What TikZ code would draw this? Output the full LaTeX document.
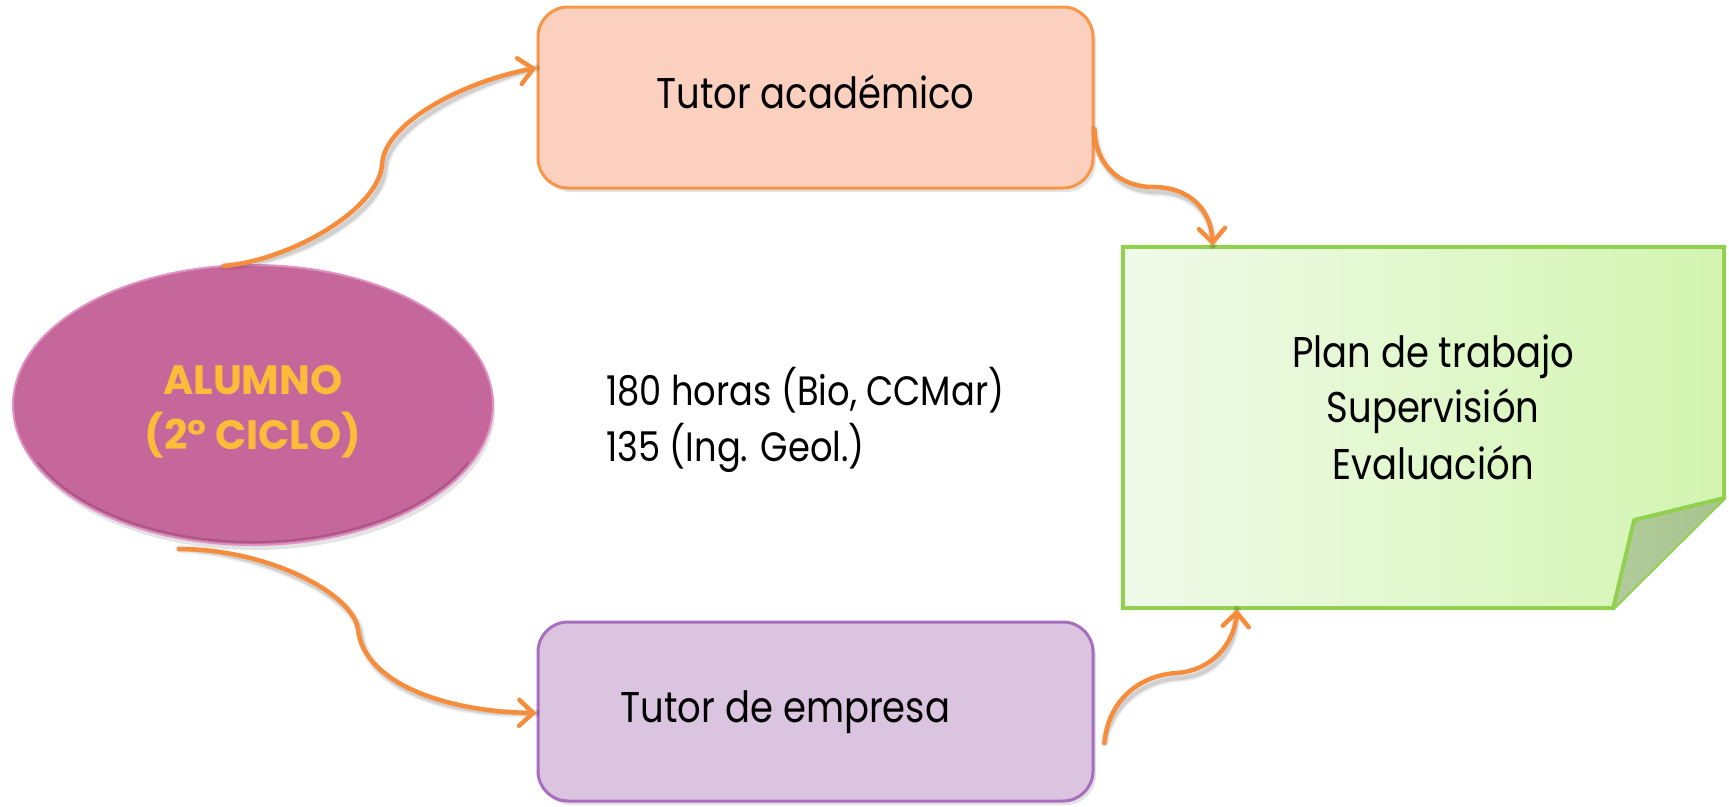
\documentclass[tikz,border=0pt]{standalone}
\usepackage{fontspec}
\setmainfont{Poppins}[FakeStretch=0.86]
\newfontfamily\titlefont{Poppins}
\usetikzlibrary{arrows.meta,shapes.geometric,shadows}
\definecolor{arrorange}{HTML}{F58D3C}
\definecolor{acadfill}{HTML}{FCD0BF}
\definecolor{acaddraw}{HTML}{F79646}
\definecolor{empfill}{HTML}{DBC4DF}
\definecolor{empdraw}{HTML}{A86EBE}
\definecolor{alufill}{HTML}{C6679B}
\definecolor{alurim}{HTML}{DE93C2}
\definecolor{aludark}{HTML}{A04F7D}
\definecolor{alutext}{HTML}{FDBB3A}
\definecolor{noteleft}{HTML}{F0FAEA}
\definecolor{noteright}{HTML}{D3F5B0}
\definecolor{notedraw}{HTML}{92D050}
\definecolor{foldleft}{HTML}{B3CB9C}
\definecolor{foldright}{HTML}{A7C48E}
\begin{document}
\begin{tikzpicture}[x=1pt,y=-1pt,
  box/.style={rectangle, rounded corners=30pt, minimum width=555pt, inner sep=0pt, line width=3pt,
    drop shadow={shadow xshift=3pt, shadow yshift=-4pt, opacity=.22}},
  lbl/.style={inner sep=0pt, font=\fontsize{43}{50}\selectfont, text=black},
  small/.style={inner sep=0pt, font=\fontsize{41}{48}\selectfont, text=black},
  alu/.style={inner sep=0pt, font=\titlefont\bfseries\fontsize{41}{48}\selectfont, text=alutext},
  conn/.style={draw=arrorange, line width=4.5pt, line cap=round, -{Straight Barb[length=14pt,width=26pt,line cap=round]}},
  connshadow/.style={draw=black, opacity=.07, line width=8pt, line cap=round, xshift=3pt, yshift=-5pt},
  connshadowb/.style={draw=black, opacity=.12, line width=4.5pt, line cap=round, xshift=3pt, yshift=-5pt}
]
\useasboundingbox (0,0) rectangle (1729,806);

% nodes
\node[box, fill=acadfill, draw=acaddraw, minimum height=181pt] (acad) at (815.5,97.5) {};
\node[box, fill=empfill, draw=empdraw, minimum height=179pt] (emp) at (815.5,711.5) {};
\node[ellipse, minimum width=480pt, minimum height=280pt, inner sep=0pt, fill=alufill, draw=alurim, line width=2pt,
  drop shadow={shadow xshift=2pt, shadow yshift=-5pt, opacity=.22}] (alumno) at (253,405) {};
\draw[aludark, line width=2pt, line cap=round, opacity=.7]
  ([shift={(25:237 and 137)}]alumno.center) arc[start angle=25, end angle=155, x radius=237, y radius=137];
\node[rectangle, minimum width=601pt, minimum height=361pt, inner sep=0pt] (plan) at (1423.5,427.5) {};

% sticky note
\path[left color=noteleft, right color=noteright, draw=notedraw, line width=4pt, line join=miter]
  (plan.north west) -- (plan.north east) -- ([yshift=-70.5pt]plan.east) -- ([xshift=-111pt]plan.south east) -- (plan.south west) -- cycle;
\path[left color=foldleft, right color=foldright, draw=notedraw, line width=4pt, line join=round]
  ([yshift=-70.5pt]plan.east) -- ([xshift=-90pt,yshift=-92.5pt]plan.east) -- ([xshift=-111pt]plan.south east);

% texts
\node[lbl, anchor=base] (acadtxt) at ([yshift=-10.5pt]acad.center) {Tutor académico};
\node[lbl, anchor=base] (emptxt) at ([xshift=-30pt,yshift=-10.5pt]emp.center) {Tutor de empresa};
\node[lbl, anchor=base] (plan1) at ([xshift=9.5pt,yshift=60.5pt]plan.center) {Plan de trabajo};
\node[lbl, anchor=base] (plan2) at ([xshift=9.5pt,yshift=5.5pt]plan.center) {Supervisión};
\node[lbl, anchor=base] (plan3) at ([xshift=9.5pt,yshift=-51.5pt]plan.center) {Evaluación};
\node[small, anchor=base west] (horas1) at (606,405) {180 horas (Bio, CCMar)};
\node[small, anchor=base west] (horas2) at (606,461) {135 (Ing. Geol.)};
\node[alu, anchor=base] (alu1) at ([yshift=11pt]alumno.center) {ALUMNO};
\node[alu, anchor=base] (alu2) at ([yshift=-44pt]alumno.center) {(2° CICLO)};

% connector end points
\coordinate (a1s) at ([xshift=-29pt,yshift=-2pt]alumno.north);
\coordinate (a1e) at ([yshift=29.5pt]acad.west);
\coordinate (a2s) at ([yshift=-32pt]acad.east);
\coordinate (a2e) at ([xshift=90pt,yshift=1pt]plan.north west);
\coordinate (a3s) at ([xshift=-74pt,yshift=-3pt]alumno.south);
\coordinate (a3e) at ([yshift=-1.5pt]emp.west);
\coordinate (a4s) at ([xshift=10pt,yshift=-31.5pt]emp.east);
\coordinate (a4e) at ([xshift=114pt,yshift=-1pt]plan.south west);

% shadows of connectors
\foreach \s in {connshadow,connshadowb}{
\draw[\s] (a1s) .. controls (290,260) and (378,210) .. (382,165) .. controls (383,125) and (460,82) .. (a1e);
\draw[\s] (a2s) .. controls (1095,165) and (1120,187) .. (1153,187) .. controls (1190,187) and (1211,210) .. (a2e);
\draw[\s] (a3s) .. controls (270,549) and (355,595) .. (358,630) .. controls (365,685) and (450,712) .. (a3e);
\draw[\s] (a4s) .. controls (1108,700) and (1140,675) .. (1177,673) .. controls (1215,670) and (1235,640) .. (a4e);
}

% connectors
\draw[conn] (a1s) .. controls (290,260) and (378,210) .. (382,165) .. controls (383,125) and (460,82) .. (a1e);
\draw[conn] (a2s) .. controls (1095,165) and (1120,187) .. (1153,187) .. controls (1190,187) and (1211,210) .. (a2e);
\draw[conn] (a3s) .. controls (270,549) and (355,595) .. (358,630) .. controls (365,685) and (450,712) .. (a3e);
\draw[conn] (a4s) .. controls (1108,700) and (1140,675) .. (1177,673) .. controls (1215,670) and (1235,640) .. (a4e);
\end{tikzpicture}
\end{document}
